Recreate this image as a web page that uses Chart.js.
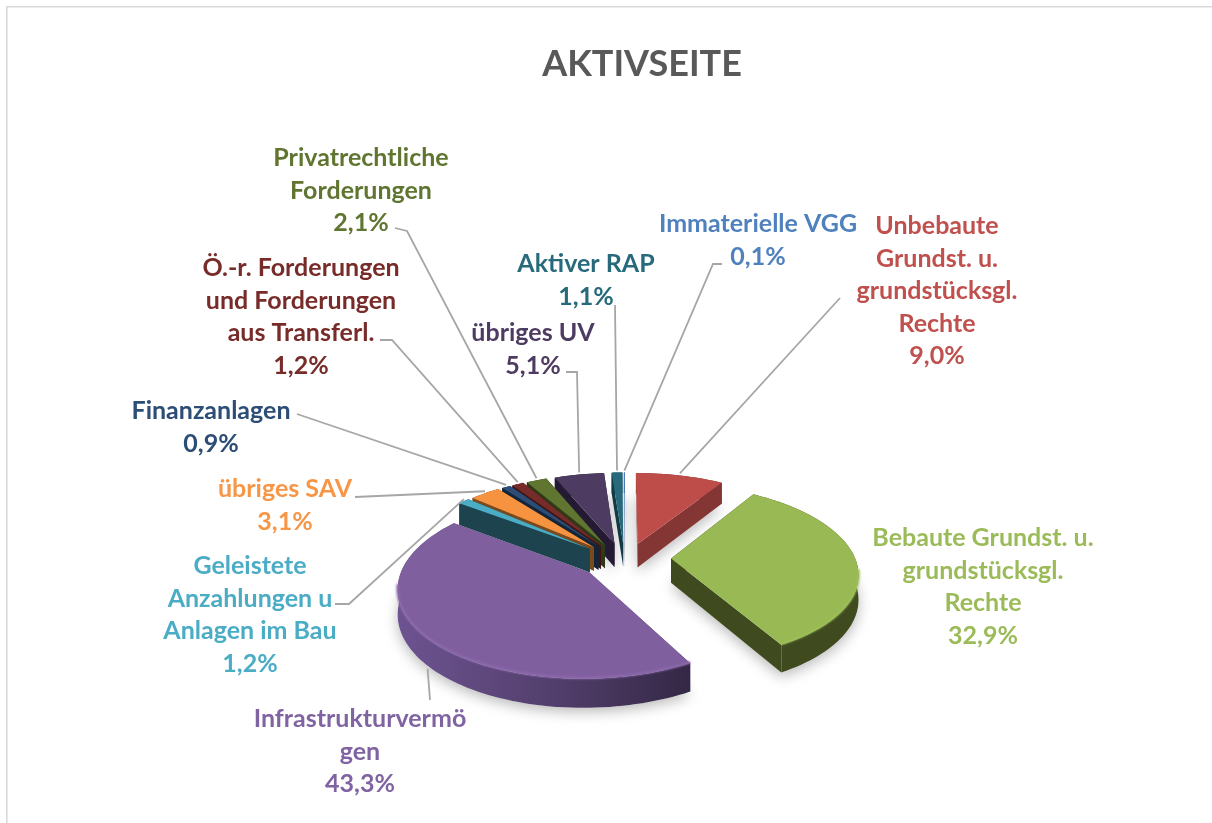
<!DOCTYPE html>
<html><head><meta charset="utf-8">
<script src="https://cdn.jsdelivr.net/npm/chart.js@4"></script>
<style>html,body{margin:0;padding:0;background:#fff}#w{position:absolute;left:0;top:0;width:1212px;height:823px}</style>
</head><body><div id="w"><canvas id="c" width="1212" height="823"></canvas></div>
<script>
const chartTitle = "AKTIVSEITE";
const categories = ["Unbebaute Grundst. u. grundstücksgl. Rechte","Bebaute Grundst. u. grundstücksgl. Rechte","Infrastrukturvermögen","Geleistete Anzahlungen u Anlagen im Bau","übriges SAV","Finanzanlagen","Ö.-r. Forderungen und Forderungen aus Transferl.","Privatrechtliche Forderungen","übriges UV","Aktiver RAP","Immaterielle VGG"];
const values = [9.0,32.9,43.3,1.2,3.1,0.9,1.2,2.1,5.1,1.1,0.1];
const valueLabels = ["9,0%","32,9%","43,3%","1,2%","3,1%","0,9%","1,2%","2,1%","5,1%","1,1%","0,1%"];
const labelLines = [
 ["Unbebaute","Grundst. u.","grundstücksgl.","Rechte"],
 ["Bebaute Grundst. u.","grundstücksgl.","Rechte"],
 ["Infrastrukturvermö","gen"],
 ["Geleistete","Anzahlungen u","Anlagen im Bau"],
 ["übriges SAV"],
 ["Finanzanlagen"],
 ["Ö.-r. Forderungen","und Forderungen","aus Transferl."],
 ["Privatrechtliche","Forderungen"],
 ["übriges UV"],
 ["Aktiver RAP"],
 ["Immaterielle VGG"]];
const topColors  = ["#BE4D4A","#98B954","#7F5F9D","#4BACC6","#F59340","#2C4D75","#772C2A","#5F7530","#4D3B62","#276A7C","#4F81BD"];
const textColors = ["#C0504D","#9BBB59","#8064A2","#4BACC6","#F79646","#2C4D75","#772C2A","#5F7530","#4D3B62","#276A7C","#4F81BD"];
const sideColors = ["#843634","#3F4A1E","#54406F","#1D444E","#7A4A1C","#14253A","#3D1615","#2E3A17","#241A33","#123944","#2A4A70"];
// label anchors: centre x, first-line y
const labelPos = [[937,226],[983,538],[360,719],[250,566],[285,489],[211,411],[301,268],[361,158],[533,333],[586,264],[758,224]];
// leader elbow points (null: no leader)
const leaderFrom = [[[840,298]],null,[[430,700]],[[335,604],[349,604]],[[355,497]],[[297,414]],[[380,340],[392,340]],[[395,228],[407,231]],[[566,372],[577,372]],[[615,305]],[[722,264],[713,264]]];

const FONT = "Lato, 'Open Sans', sans-serif";
const LABEL_PX = 25, LINE_H = 32.5, TITLE_PX = 36;
const SQUASH = 0.465, PERSP = 0.15, EXPLODE = 0.25, FAR_Y = 0.7, DEPTH = 24;

function project(cx,cy,r,u,v){
  const p = 1/(1+PERSP*v);
  return {x:cx+r*u*p, y:cy-r*SQUASH*v*p, p};
}
function outline(el,i){
  const mid=(el.startAngle+el.endAngle)/2;
  const ox=EXPLODE*Math.cos(mid);
  let oy=-EXPLODE*Math.sin(mid); if(oy>0) oy*=FAR_Y;
  const n=Math.max(2,Math.ceil((el.endAngle-el.startAngle)/0.03));
  const rim=[];
  for(let k=0;k<=n;k++){
    const t=el.startAngle+(el.endAngle-el.startAngle)*k/n;
    rim.push(project(el.x,el.y,el.outerRadius,ox+Math.cos(t),oy-Math.sin(t)));
  }
  const tip=project(el.x,el.y,el.outerRadius,ox,oy);
  return {rim,tip,mid,ox,oy};
}
function poly(ctx,pts){ctx.beginPath();pts.forEach((q,j)=>j?ctx.lineTo(q.x,q.y):ctx.moveTo(q.x,q.y));ctx.closePath();}
const down=q=>({x:q.x,y:q.y+DEPTH*q.p});
function shade(hex,f){
  const n=parseInt(hex.slice(1),16);
  const c=[n>>16,(n>>8)&255,n&255].map(x=>Math.max(0,Math.min(255,Math.round(x*f))));
  return `rgb(${c[0]},${c[1]},${c[2]})`;
}
const pie3d = {
  id:'pie3d',
  beforeDatasetsDraw(chart){
    const ctx=chart.ctx, els=chart.getDatasetMeta(0).data;
    const shapes=els.map((el,i)=>({i,...outline(el,i)}));
    // soft ground shadow
    ctx.save();
    ctx.shadowColor='rgba(0,0,0,0.28)';ctx.shadowBlur=14;ctx.shadowOffsetY=4;ctx.fillStyle='#fff';
    shapes.forEach(s=>{poly(ctx,[down(s.tip),...s.rim.map(down)]);ctx.fill();});
    ctx.restore();
    // far slices first
    const order=shapes.slice().sort((a,b)=>b.oy-a.oy);
    order.forEach(s=>{
      const i=s.i, rim=s.rim, tip=s.tip;
      // radial walls
      ctx.fillStyle=sideColors[i];
      [rim[0],rim[rim.length-1]].forEach(e=>{poly(ctx,[tip,e,down(e),down(tip)]);ctx.fill();});
      // outer rim strip; the large purple slice is lit from the left
      if(i===2){
        const xs=rim.map(q=>q.x), x0=Math.min(...xs), x1=Math.max(...xs);
        const g=ctx.createLinearGradient(x0,0,x1,0);
        g.addColorStop(0,shade(sideColors[i],1.3));g.addColorStop(0.5,sideColors[i]);g.addColorStop(1,shade(sideColors[i],0.62));
        ctx.fillStyle=g;
      } else ctx.fillStyle=sideColors[i];
      poly(ctx,[...rim,...rim.slice().reverse().map(down)]);ctx.fill();
      // top face
      ctx.fillStyle=topColors[i];
      poly(ctx,[tip,...rim]);ctx.fill();
      // soft bevel along the front of the rim
      if(i===1||i===2){
        const el=els[i];
        ctx.save();
        ctx.strokeStyle=shade(topColors[i],i===1?1.03:1.1);ctx.lineWidth=2.5;ctx.lineJoin='round';
        ctx.filter='blur(0.8px)';
        ctx.beginPath();
        let on=false;
        rim.forEach((q,k)=>{
          const t=el.startAngle+(el.endAngle-el.startAngle)*k/(rim.length-1);
          if(Math.sin(t)>0.12){ on?ctx.lineTo(q.x,q.y-1):ctx.moveTo(q.x,q.y-1); on=true; }
        });
        ctx.stroke();
        ctx.restore();
      }
    });
    return false;
  },
  afterDraw(chart){
    const ctx=chart.ctx, els=chart.getDatasetMeta(0).data;
    ctx.save();
    // page frame
    ctx.fillStyle='#D9D9D9';ctx.fillRect(6,6,1206,1.5);ctx.fillRect(6,6,1.6,817);
    // title
    ctx.textAlign='center';ctx.textBaseline='middle';
    ctx.fillStyle='#595959';ctx.font=`bold ${TITLE_PX}px ${FONT}`;
    ctx.fillText(chartTitle,642,64);
    // leaders
    ctx.strokeStyle='#A6A6A6';ctx.lineWidth=1.8;
    els.forEach((el,i)=>{
      if(!leaderFrom[i])return;
      const s=outline(el,i);
      const end=project(el.x,el.y,el.outerRadius,s.ox+Math.cos(s.mid),s.oy-Math.sin(s.mid));
      const ey=Math.sin(s.mid)>0?end.y+DEPTH*end.p+3:end.y-2;
      ctx.beginPath();
      leaderFrom[i].forEach((q,j)=>j?ctx.lineTo(q[0],q[1]):ctx.moveTo(q[0],q[1]));
      ctx.lineTo(end.x,ey);ctx.stroke();
    });
    // labels
    ctx.font=`bold ${LABEL_PX}px ${FONT}`;
    labelPos.forEach((pos,i)=>{
      ctx.fillStyle=textColors[i];
      [...labelLines[i],valueLabels[i]].forEach((t,j)=>ctx.fillText(t,pos[0],pos[1]+j*LINE_H));
    });
    ctx.restore();
  }
};
new Chart(document.getElementById('c'),{
  type:'pie',
  data:{labels:categories,datasets:[{data:values,backgroundColor:topColors,borderWidth:0}]},
  options:{
    responsive:false,animation:false,
    layout:{padding:{left:441,right:403,top:374,bottom:81}},
    plugins:{legend:{display:false},tooltip:{enabled:false},title:{display:false}}
  },
  plugins:[pie3d]
});
</script></body></html>
